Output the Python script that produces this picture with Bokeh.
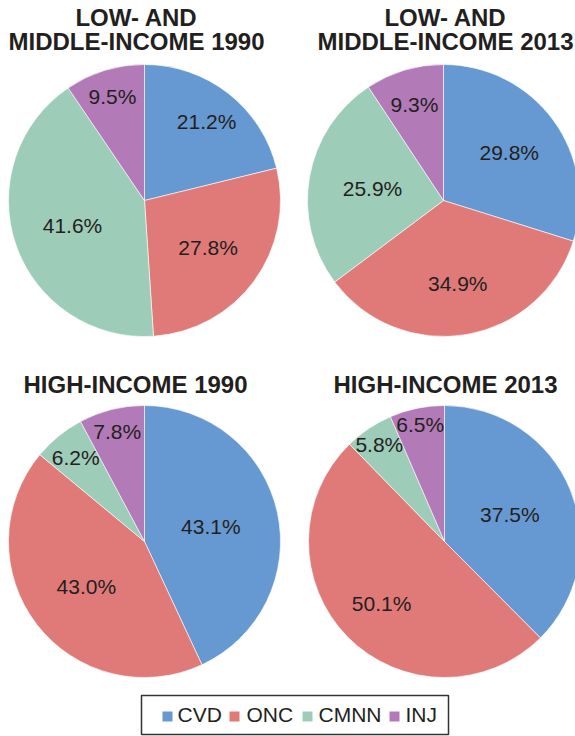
import math
from bokeh.plotting import figure
from bokeh.models import ColumnDataSource, Range1d
from bokeh.core.properties import value
from bokeh.embed import file_html
from bokeh.resources import INLINE

# ---------------- data ----------------
categories = ["CVD", "ONC", "CMNN", "INJ"]
titles = [
    ["LOW- AND", "MIDDLE-INCOME 1990"],
    ["LOW- AND", "MIDDLE-INCOME 2013"],
    ["HIGH-INCOME 1990"],
    ["HIGH-INCOME 2013"],
]
lmic_1990 = [21.2, 27.8, 41.6, 9.5]
lmic_2013 = [29.8, 34.9, 25.9, 9.3]
hic_1990 = [43.1, 43.0, 6.2, 7.8]
hic_2013 = [37.5, 50.1, 5.8, 6.5]
series = [lmic_1990, lmic_2013, hic_1990, hic_2013]

# ---------------- style / layout ----------------
colors = ["#6699d1", "#e07a78", "#9dccb8", "#b27ab6"]
TEXT = "#231f20"
W, H = 575, 736
R = 136
centers = [(144, 200), (443, 200), (144, 541), (444, 541)]
title_x = [136, 445, 135, 445]
title_y = [[17, 41], [17, 41], [384], [384]]
label_rf = [
    [0.74, 0.58, 0.56, 0.80],
    [0.60, 0.62, 0.53, 0.74],
    [0.50, 0.54, 0.80, 0.83],
    [0.52, 0.65, 0.86, 0.88],
]

p = figure(width=W, height=H, output_backend="svg", toolbar_location=None,
           x_range=Range1d(0, W), y_range=Range1d(0, H),
           min_border=0, outline_line_color=None)
p.axis.visible = False
p.grid.visible = False
p.background_fill_color = "white"
p.border_fill_color = "white"

def Y(py):
    return H - py

for k, vals in enumerate(series):
    cx, cy = centers[k]
    total = sum(vals)
    starts, ends, xs, ys, labels = [], [], [], [], []
    cum = 0.0
    for i, v in enumerate(vals):
        c0 = cum / total
        c1 = (cum + v) / total
        cum += v
        a0 = math.pi / 2 - 2 * math.pi * c1
        a1 = math.pi / 2 - 2 * math.pi * c0
        starts.append(a0)
        ends.append(a1)
        mid = (a0 + a1) / 2
        r = label_rf[k][i] * R
        xs.append(cx + r * math.cos(mid))
        ys.append(Y(cy) + r * math.sin(mid))
        labels.append(f"{v:.1f}%")
    src = ColumnDataSource(dict(x=[cx] * 4, y=[Y(cy)] * 4, start=starts, end=ends,
                                color=colors, cat=categories))
    p.wedge(x="x", y="y", radius=R, start_angle="start", end_angle="end",
            fill_color="color", line_color="white", line_width=0.6, source=src)
    p.text(x=xs, y=ys, text=labels, text_align="center", text_baseline="middle",
           text_font=value("Liberation Sans"), text_font_size="21px", text_color=TEXT)
    for j, line in enumerate(titles[k]):
        p.text(x=[title_x[k]], y=[Y(title_y[k][j])], text=[line], text_align="center",
               text_baseline="middle", text_font=value("Liberation Sans"),
               text_font_size="24px", text_font_style="bold", text_color=TEXT)

# ---------------- legend ----------------
box_l, box_r, box_t, box_b = 141, 448, 695, 734
p.quad(left=[box_l], right=[box_r], top=[Y(box_t)], bottom=[Y(box_b)],
       fill_color="white", line_color="#333333", line_width=1.5)
sq_x = [167, 234, 307, 394]
txt_x = [177, 246, 318, 405]
sq = 10
for i, cat in enumerate(categories):
    lx = sq_x[i]
    ly = Y(716)
    p.quad(left=[lx - sq / 2], right=[lx + sq / 2], top=[ly + sq / 2], bottom=[ly - sq / 2],
           fill_color=colors[i], line_color=None)
    p.text(x=[txt_x[i]], y=[Y(714)], text=[cat], text_align="left", text_baseline="middle",
           text_font=value("Liberation Sans"), text_font_size="21px", text_color=TEXT)

open("out.html", "w").write(file_html(p, INLINE))
